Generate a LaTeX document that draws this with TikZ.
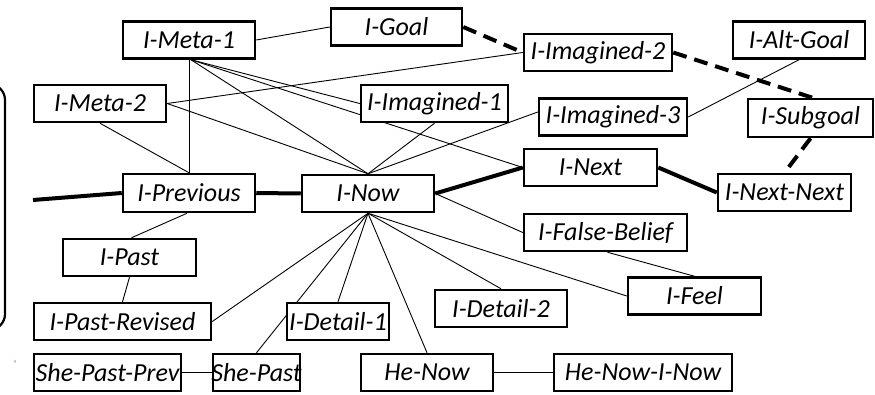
\documentclass[tikz,border=0pt]{standalone}
\usepackage{fontspec}
\setmainfont{Carlito}
\usetikzlibrary{backgrounds}
\begin{document}
\begin{tikzpicture}[x=1pt,y=-1pt,
  box/.style={draw=black,line width=2.5pt,fill=white,inner sep=0pt,minimum height=37pt,
    font=\fontsize{26}{30}\selectfont\itshape},
  edge/.style={draw=black,line width=0.9pt},
  boldedge/.style={draw=black,line width=4pt},
  dashedge/.style={draw=black,line width=4pt,dash pattern=on 14pt off 8pt}]
\useasboundingbox (0,0) rectangle (875,394);
% left bracket
\draw[line width=2.2pt,rounded corners=16pt] (-60,84) -- (5,84) -- (5,330) -- (-60,330);
\node[font=\fontsize{5}{6}\selectfont,text=gray,inner sep=0pt] (four) at (15,362) {4};
% nodes
\node[box,minimum width=132pt] (meta1) at (189,40) {\makebox[0pt]{I-Meta-1}};
\node[box,minimum width=131pt] (goal) at (396.5,27) {\makebox[0pt]{I-Goal}};
\node[box,minimum width=132pt] (meta2) at (100,103.5) {\makebox[0pt]{I-Meta-2}};
\node[box,minimum width=147pt] (imag1) at (434.5,103.5) {\makebox[0pt]{I-Imagined-1}};
\node[box,minimum width=148pt] (imag2) at (598,52.5) {\makebox[0pt]{I-Imagined-2}};
\node[box,minimum width=132pt] (altgoal) at (799,40) {\makebox[0pt]{I-Alt-Goal}};
\node[box,minimum width=148pt] (imag3) at (613,117) {\makebox[0pt]{I-Imagined-3}};
\node[box,minimum width=125pt,minimum height=38pt] (subgoal) at (810.5,118) {\makebox[0pt]{I-Subgoal}};
\node[box,minimum width=132pt,minimum height=38pt] (prev) at (189,193) {\makebox[0pt]{I-Previous}};
\node[box,minimum width=132pt] (now) at (368,193.5) {\makebox[0pt]{I-Now}};
\node[box,minimum width=133pt] (next) at (590.5,167.5) {\makebox[0pt]{I-Next}};
\node[box,minimum width=133pt] (nextnext) at (784.5,192.5) {\makebox[0pt]{I-Next-Next}};
\node[box,minimum width=163pt] (falsebelief) at (605.5,232.5) {\makebox[0pt]{I-False-Belief}};
\node[box,minimum width=133pt] (feel) at (694.5,296) {\makebox[0pt]{I-Feel}};
\node[box,minimum width=132pt] (detail2) at (501,308.5) {\makebox[0pt]{I-Detail-2}};
\node[box,minimum width=133pt] (past) at (129.5,257.5) {\makebox[0pt]{I-Past}};
\node[box,minimum width=177pt] (pastrev) at (122.5,321.5) {\makebox[0pt]{I-Past-Revised}};
\node[box,minimum width=102pt] (detail1) at (338,321.5) {\makebox[0pt]{I-Detail-1}};
\node[box,minimum width=147pt] (shepastprev) at (107.5,372.5) {\makebox[0pt]{She-Past-Prev}};
\node[box,minimum width=87pt] (shepast) at (256.5,372.5) {\makebox[0pt]{She-Past}};
\node[box,minimum width=132pt] (henow) at (427,372.5) {\makebox[0pt]{He-Now}};
\node[box,minimum width=178pt] (henowinow) at (643,372.5) {\makebox[0pt]{He-Now-I-Now}};
\coordinate (lft) at (33,200);
\coordinate (m1) at ([xshift=2pt]meta1.south);
% edges (behind nodes)
\begin{scope}[on background layer]
\draw[edge] (meta1.east) -- (goal.west);
\draw[edge] (meta1.south) -- (prev.north);
\draw[edge] (m1) -- (now.north);
\draw[edge] (m1) -- (imag1.west);
\draw[edge] (m1) -- (next.west);
\draw[edge] (meta2.east) -- (imag2.west);
\draw[edge] (meta2.east) -- (now.north);
\draw[edge] (meta2.south) -- (prev.north);
\draw[edge] (imag1.south) -- (now.north);
\draw[edge] (now.north) -- ([yshift=5pt]imag3.west);
\draw[edge] (imag3.east) -- (altgoal.south);
\draw[edge] (now.east) -- (falsebelief.west);
\draw[edge] ([xshift=2pt]falsebelief.south) -- (feel.north);
\draw[edge] (now.south) -- (feel.west);
\draw[edge] (now.south) -- (detail2.north);
\draw[edge] (now.south) -- (henow.north);
\draw[edge] (now.south) -- (detail1.north);
\draw[edge] (now.south) -- (shepast.north);
\draw[edge] (now.south) -- (pastrev.east);
\draw[edge] ([xshift=-2pt]prev.south) -- ([xshift=2pt]past.north);
\draw[edge] (past.south) -- (pastrev.north);
\draw[edge] (shepastprev.east) -- (shepast.west);
\draw[edge] (henow.east) -- (henowinow.west);
\draw[boldedge] (lft) -- (prev.west);
\draw[boldedge] (prev.east) -- (now.west);
\draw[boldedge] (now.east) -- (next.west);
\draw[boldedge] (next.east) -- (nextnext.west);
\draw[dashedge] (goal.east) -- (imag2.west);
\draw[dashedge] (imag2.east) -- ([xshift=2pt]subgoal.north);
\draw[dashedge] (subgoal.south) -- (nextnext.north);
\end{scope}
\end{tikzpicture}
\end{document}
